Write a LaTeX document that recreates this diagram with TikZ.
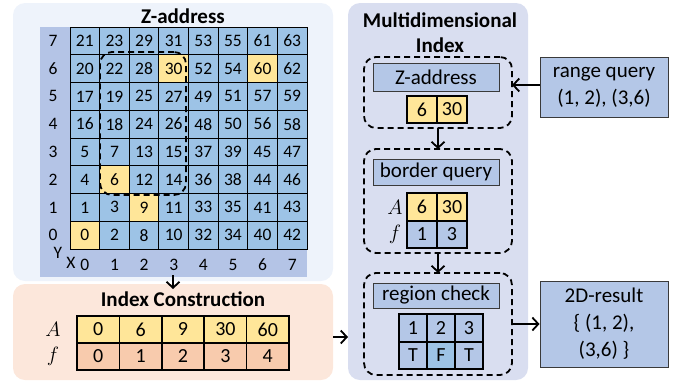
\documentclass[tikz,border=0pt]{standalone}
\usepackage{fontspec}
\setmainfont{Carlito}
\usetikzlibrary{arrows.meta}

\definecolor{zpanelc}{HTML}{EEF3FB}
\definecolor{ipanelc}{HTML}{FCE7DB}
\definecolor{mpanelc}{HTML}{D9DEF0}
\definecolor{axisc}{HTML}{B4C4E6}
\definecolor{cellblue}{HTML}{9DC3E6}
\definecolor{hlyel}{HTML}{FFE699}
\definecolor{fpink}{HTML}{F8CBAD}
\definecolor{boxblue}{HTML}{B4C7E7}
\definecolor{boxedge}{HTML}{3A3A3A}

\newcommand\gridfont{\fontsize{17.5}{20}\selectfont}
\newcommand\bigfont{\fontsize{21}{27}\selectfont}
\newcommand\titlefont{\fontsize{21}{25}\selectfont\bfseries}
\newcommand\tabfont{\fontsize{20}{24}\selectfont}

\begin{document}
\begin{tikzpicture}[x=1pt,y=-1pt,
  panel/.style={rounded corners=12pt, inner sep=0pt, outer sep=0pt},
  gcell/.style={draw=black, line width=0.8pt, minimum width=29.625pt, minimum height=27.75pt, inner sep=0pt, font=\gridfont},
  axlab/.style={inner sep=0pt, font=\gridfont},
  tcell/.style={draw=black, line width=1.6pt, inner sep=0pt, font=\tabfont},
  lbl/.style={inner sep=0pt, font=\fontsize{21}{24}\selectfont},
  sbox/.style={fill=boxblue, draw=boxedge, line width=0.9pt, inner sep=0pt, font=\bigfont, align=center},
  dbox/.style={draw=black, dashed, dash pattern=on 6pt off 4pt, line width=1.8pt, rounded corners=12pt, inner sep=0pt, outer sep=0pt},
  arr/.style={line width=1.8pt, -{Straight Barb[length=6pt,width=13pt]}}]

\useasboundingbox (0,0) rectangle (679,383);

% background panels
\node[panel, fill=zpanelc, minimum width=320pt, minimum height=278pt] (zpanel) at (173,142) {};
\node[panel, fill=ipanelc, minimum width=320pt, minimum height=96pt] (ipanel) at (173,332) {};
\node[panel, fill=mpanelc, minimum width=180pt, minimum height=377pt] (mpanel) at (438,191.5) {};

% Z-address grid
\node[font=\titlefont, inner sep=0pt] (ztitle) at (183,16) {Z-address};
\node[fill=axisc, minimum width=267pt, minimum height=250pt, inner sep=0pt, outer sep=0pt] (axisbg) at (173.5,152) {};

\foreach \i in {0,...,7}{
  \foreach \j in {0,...,7}{
    \pgfmathtruncatemacro\z{2*mod(\i,2)+8*mod(int(\i/2),2)+32*int(\i/4)+mod(\j,2)+4*mod(int(\j/2),2)+16*int(\j/4)}
    \pgfmathtruncatemacro\hl{((\i==0)&&(\j==0))||((\i==1)&&(\j==2))||((\i==2)&&(\j==1))||((\i==3)&&(\j==6))||((\i==6)&&(\j==6))}
    \ifnum\hl=1 \def\cf{hlyel}\else\def\cf{cellblue}\fi
    \node[gcell, fill=\cf] (g-\i-\j) at ({70+29.625*(\i+0.5)},{249-27.75*(\j+0.5)}) {\z};
  }
}
\foreach \k in {0,...,7}{
  \node[axlab] (yl-\k) at (53,{249-27.75*(\k+0.5)}) {\k};
  \node[axlab] (xl-\k) at ({70+29.625*(\k+0.5)},265) {\k};
}
\node[axlab] (ylab) at (58,253) {Y};
\node[axlab] (xlab) at (71,263) {X};

% query region in the grid
\node[dbox, minimum width=86pt, minimum height=143pt] (qreg) at (143,123.5) {};

% index construction
\node[font=\titlefont, inner sep=0pt] (ititle) at (183,299) {Index Construction};
\node[lbl] (iA) at (53,329.5) {$A$};
\node[lbl] (if) at (53,356.5) {$f$};
\foreach \v [count=\k from 0] in {0,6,9,30,60}
  \node[tcell, fill=hlyel, minimum width=42.4pt, minimum height=27pt] (ia-\k) at ({77+42.4*(\k+0.5)},329.5) {\v};
\foreach \v [count=\k from 0] in {0,1,2,3,4}
  \node[tcell, fill=fpink, minimum width=42.4pt, minimum height=27pt] (if-\k) at ({77+42.4*(\k+0.5)},356.5) {\v};

% multidimensional index
\node[font=\titlefont, align=center, inner sep=0pt] (mtitle) at (440,32.5) {Multidimensional\\Index};

\node[dbox, minimum width=148pt, minimum height=71pt] (d1) at (438,92.5) {};
\node[dbox, minimum width=148pt, minimum height=104pt] (d2) at (438,201) {};
\node[dbox, minimum width=148pt, minimum height=102pt] (d3) at (438,324) {};

\node[sbox, minimum width=126pt, minimum height=28pt] (bz) at (436,77) {Z-address};
\node[tcell, fill=hlyel, minimum width=30pt, minimum height=27pt] (z1) at (422,109.5) {6};
\node[tcell, fill=hlyel, minimum width=30pt, minimum height=27pt] (z2) at (452,109.5) {30};

\node[sbox, minimum width=126pt, minimum height=26pt] (bb) at (436,172) {border query};
\node[lbl] (bA) at (395,207) {$A$};
\node[lbl] (bf) at (395,234.5) {$f$};
\node[tcell, fill=hlyel, minimum width=30pt, minimum height=28pt] (ba1) at (422,207) {6};
\node[tcell, fill=hlyel, minimum width=30pt, minimum height=28pt] (ba2) at (452,207) {30};
\node[tcell, fill=boxblue, minimum width=30pt, minimum height=27pt] (bf1) at (422,234.5) {1};
\node[tcell, fill=boxblue, minimum width=30pt, minimum height=27pt] (bf2) at (452,234.5) {3};

\node[sbox, minimum width=126pt, minimum height=25pt] (br) at (436,295.5) {region check};
\foreach \v/\c [count=\k from 0] in {1/boxblue,2/boxblue,3/boxblue}
  \node[tcell, fill=\c, minimum width=28pt, minimum height=28pt] (rt-\k) at ({399+28*(\k+0.5)},328) {\v};
\foreach \v/\c [count=\k from 0] in {T/boxblue,F/cellblue,T/boxblue}
  \node[tcell, fill=\c, minimum width=28pt, minimum height=27pt] (rb-\k) at ({399+28*(\k+0.5)},355.5) {\v};

% query input and result
\node[sbox, minimum width=128pt, minimum height=60pt] (range) at (604,87) {range query\\(1, 2), (3,6)};
\node[sbox, minimum width=128pt, minimum height=86pt] (result) at (604,324) {2D-result\\\{ (1, 2),\\(3,6) \}};

% connectors
\draw[arr] ([yshift=6pt]zpanel.south) -- ([yshift=-5pt]ipanel.north);
\draw[arr] ([yshift=-5pt]ipanel.east) -- ([yshift=-5pt]ipanel.east -| mpanel.west);
\draw[arr] ([yshift=2pt]range.west) -- ([yshift=2pt]range.west -| d1.east);
\draw[arr] (d1.south) -- (d2.north);
\draw[arr] (d2.south) -- (d3.north);
\draw[arr] (result.west -| d3.east) -- (result.west);

\end{tikzpicture}
\end{document}
